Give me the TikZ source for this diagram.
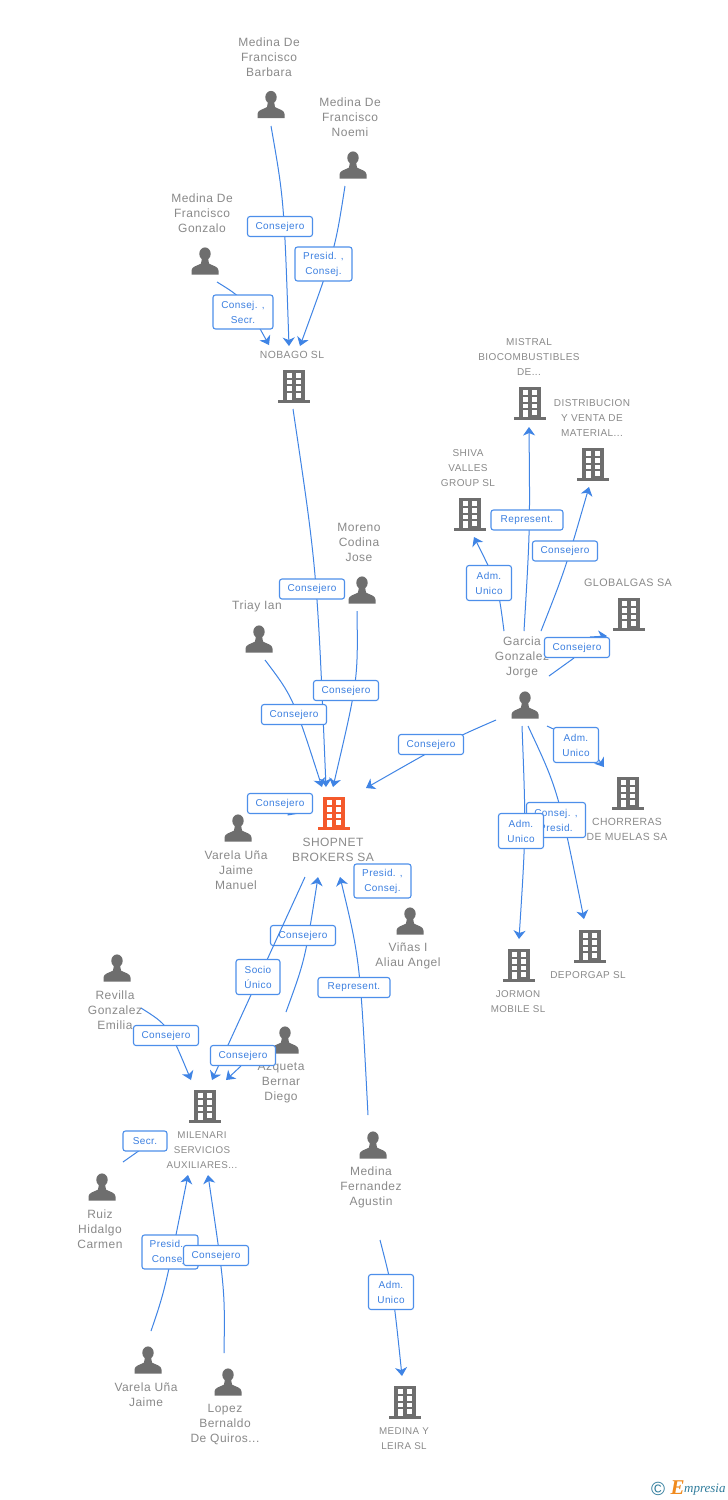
\documentclass[tikz,border=0pt]{standalone}
\usepackage{fontspec}
\setmainfont[LetterSpace=4]{Liberation Sans}
\newfontfamily\logofont{Liberation Serif}
\usetikzlibrary{arrows.meta}
\definecolor{linkblue}{HTML}{3F84E5}
\definecolor{boxblue}{HTML}{4D8FEA}
\definecolor{txtblue}{HTML}{3B7FE0}
\definecolor{icongray}{HTML}{6E6E6E}
\definecolor{namegray}{HTML}{8A8A8A}
\definecolor{hotorange}{HTML}{F4592B}
\definecolor{logoteal}{HTML}{2F7C9C}
\definecolor{logoorange}{HTML}{F08A1D}
\tikzset{
  x=1pt,y=-1pt,
  conn/.style={draw=linkblue,line width=1pt},
  connarrow/.style={conn,-{Stealth[length=8.5pt,width=12pt,inset=2.5pt]}},
  persontext/.style={text=namegray,align=center,inner sep=0pt,font=\fontsize{12}{15}\selectfont},
  bigcotext/.style={text=namegray,align=center,inner sep=0pt,font=\fontsize{12}{15}\selectfont},
  cotext/.style={text=namegray,align=center,inner sep=0pt,font=\fontsize{10}{15}\selectfont},
  widecotext/.style={text=namegray,align=center,inner sep=0pt,font=\fontsize{10.4}{15}\selectfont},
  smalltext/.style={text=namegray,align=center,inner sep=0pt,font=\fontsize{9.8}{15}\selectfont},
  linkbox/.style={draw=boxblue,line width=1.1pt,rounded corners=2.5pt,fill=white,text=txtblue,
    align=center,inner sep=0pt,font=\fontsize{10}{15}\selectfont},
  person/.pic={
    \fill[icongray] (0,-7.2) ellipse (5.7 and 6.4);
    \fill[icongray] (-13.5,13.5) -- (-13.5,9.5) .. controls (-13.5,5.5) and (-8,5) .. (-4,2.5)
      -- (-3,-3) -- (3,-3) -- (4,2.5) .. controls (8,5) and (13.5,5.5) .. (13.5,9.5) -- (13.5,13.5) -- cycle;
  },
  building/.pic={
    \fill[pic actions] (-11.2,-16) rectangle (11.2,14);
    \fill[pic actions] (-16,14) rectangle (16,17);
    \foreach \yy in {-12.7,-6,0.7} {
      \fill[white] (-7.3,\yy) rectangle (-2.2,{\yy+4.7});
      \fill[white] (2.3,\yy) rectangle (7.4,{\yy+4.7});
    }
    \fill[white] (-7.3,7.4) rectangle (-2.2,14);
    \fill[white] (2.3,7.4) rectangle (7.4,12);
  },
}
\newcommand{\personat}[3]{\coordinate (#1) at (#2,#3); \pic at (#1) {person};}
\newcommand{\buildingat}[3]{\coordinate (#1) at (#2,#3); \pic[fill=icongray] at (#1) {building};}
\newcommand{\linkbox}[6]{\node[linkbox,minimum width=#4pt,minimum height=#5pt] (#1) at (#2,#3) {#6};}
\begin{document}
\begin{tikzpicture}
\useasboundingbox (0,0) rectangle (728,1500);
\fill[white] (0,0) rectangle (728,1500);

% people
\personat{barbara}{271}{104.5}
\personat{noemi}{353}{165}
\personat{gonzalo}{205}{261}
\personat{moreno}{362}{590}
\personat{triay}{259}{639}
\personat{jmanuel}{238}{828}
\personat{vinas}{410}{921}
\personat{revilla}{117}{968}
\personat{azqueta}{285}{1040}
\personat{ruiz}{102}{1187}
\personat{agustin}{373}{1145}
\personat{jaime}{148}{1360}
\personat{lopez}{228}{1382}
\personat{garcia}{525}{705}

% companies
\buildingat{nobago}{294}{385.5}
\coordinate (shopnet) at (334,813); \pic[fill=hotorange] at (shopnet) {building};
\buildingat{mistral}{530}{403}
\buildingat{distrib}{593}{464}
\buildingat{shiva}{470}{514}
\buildingat{globalgas}{629}{614}
\buildingat{chorreras}{628}{793}
\buildingat{deporgap}{590}{946}
\buildingat{jormon}{519}{965}
\buildingat{milenari}{205}{1106}
\buildingat{leira}{405}{1402}

% names
\node[persontext] (barbaraT) at (269,57) {Medina De\\Francisco\\Barbara};
\node[persontext] (noemiT) at (350,117) {Medina De\\Francisco\\Noemi};
\node[persontext] (gonzaloT) at (202,213) {Medina De\\Francisco\\Gonzalo};
\node[widecotext] (nobagoT) at (292,355) {NOBAGO SL};
\node[persontext] (morenoT) at (359,542) {Moreno\\Codina\\Jose};
\node[persontext] (triayT) at (257,606) {Triay Ian};
\node[persontext] (jmanuelT) at (236,870) {Varela Uña\\Jaime\\Manuel};
\node[bigcotext] (shopnetT) at (333,849.5) {SHOPNET\\BROKERS SA};
\node[persontext] (vinasT) at (408,955.5) {Viñas I\\Aliau Angel};
\node[persontext] (revillaT) at (115,1010) {Revilla\\Gonzalez\\Emilia};
\node[persontext] (azquetaT) at (281,1083) {Azqueta\\Bernar\\Diego};
\node[smalltext] (milenariT) at (202,1150) {MILENARI\\SERVICIOS\\AUXILIARES...};
\node[persontext] (ruizT) at (100,1229) {Ruiz\\Hidalgo\\Carmen};
\node[persontext] (agustinT) at (371,1187) {Medina\\Fernandez\\Agustin};
\node[persontext] (jaimeT) at (146,1394.5) {Varela Uña\\Jaime};
\node[persontext] (lopezT) at (225,1424) {Lopez\\Bernaldo\\De Quiros...};
\node[smalltext] (leiraT) at (404,1438.5) {MEDINA Y\\LEIRA SL};
\node[cotext] (shivaT) at (468,468) {SHIVA\\VALLES\\GROUP SL};
\node[cotext] (mistralT) at (529,357) {MISTRAL\\BIOCOMBUSTIBLES\\DE...};
\node[cotext] (distribT) at (592,418) {DISTRIBUCION\\Y VENTA DE\\MATERIAL...};
\node[text=namegray,inner sep=0pt,font=\fontsize{10.8}{15}\selectfont] (globalgasT) at (628,583) {GLOBALGAS SA};
\node[persontext] (garciaT) at (522,657) {Garcia\\Gonzalez\\Jorge};
\node[widecotext] (chorrerasT) at (627,829.5) {CHORRERAS\\DE MUELAS SA};
\node[cotext] (deporgapT) at (588,975) {DEPORGAP SL};
\node[smalltext] (jormonT) at (518,1001.5) {JORMON\\MOBILE SL};

% connector ends
\coordinate (a1) at (271,126);   \coordinate (b1) at (289,346);
\coordinate (a2) at (345,186);   \coordinate (b2) at (300,346);
\coordinate (a3) at (217,282);   \coordinate (b3) at (269,345);
\coordinate (a4) at (293,409);   \coordinate (b4) at (326,787);
\coordinate (a5) at (357,611);   \coordinate (b5) at (333,787);
\coordinate (a6) at (265,660);   \coordinate (b6) at (322,787);
\coordinate (a7) at (496,720);   \coordinate (b7) at (366,788);
\coordinate (a8) at (297,806);   \coordinate (b8) at (287.5,815.5);
\coordinate (a10) at (141,1008); \coordinate (b10) at (191,1080);
\coordinate (a11) at (241,1066); \coordinate (b11) at (226,1080);
\coordinate (a12) at (123,1162);
\coordinate (a13) at (151,1331); \coordinate (b13) at (188,1175);
\coordinate (a14) at (224,1353); \coordinate (b14) at (208,1175);
\coordinate (a15) at (380,1240); \coordinate (b15) at (402,1376);
\coordinate (a16) at (504,631);  \coordinate (b16) at (474,537);
\coordinate (a17) at (524,631);  \coordinate (b17) at (529,427);
\coordinate (a18) at (541,631);  \coordinate (b18) at (589,487);
\coordinate (a19) at (549,676);  \coordinate (b19) at (607,636);
\coordinate (a20) at (547,726);  \coordinate (b20) at (604,767);
\coordinate (a21) at (528,726);  \coordinate (b21) at (584,919);
\coordinate (a22) at (522,726);  \coordinate (b22) at (519,939);
\coordinate (a23) at (286,1012); \coordinate (b23) at (318,877);
\coordinate (a24) at (368,1115); \coordinate (b24) at (340,877);
\coordinate (a25) at (305,877);  \coordinate (b25) at (212,1080);

% connectors
\draw[connarrow] (a1) .. controls (284,200) .. (b1);
\draw[connarrow] (a2) .. controls (335,250) .. (b2);
\draw[connarrow] (a3) .. controls (243,298) .. (b3);
\draw[connarrow] (a4) .. controls (317,570) .. (b4);
\draw[connarrow] (a5) .. controls (358,680) .. (b5);
\draw[connarrow] (a6) .. controls (293,697) .. (b6);
\draw[connarrow] (a7) .. controls (450,740) .. (b7);
\draw[connarrow] (a8) -- (b8);
\draw[connarrow] (a10) .. controls (168,1025) .. (b10);
\draw[connarrow] (a11) -- (b11);
\draw[conn] (a12) -- (140,1150);
\draw[connarrow] (a13) .. controls (165,1290) .. (b13);
\draw[connarrow] (a14) .. controls (225,1290) .. (b14);
\draw[connarrow] (a15) .. controls (393,1290) .. (b15);
\draw[connarrow] (a16) .. controls (498,585) .. (b16);
\draw[connarrow] (a17) .. controls (530,530) .. (b17);
\draw[connarrow] (a18) .. controls (565,570) .. (b18);
\draw[conn] (a19) -- (574,658);
\draw[connarrow] (590,637) -- (b19);
\draw[connarrow] (a20) .. controls (588,745) .. (b20);
\draw[connarrow] (a21) .. controls (558,790) .. (b21);
\draw[connarrow] (a22) .. controls (526,830) .. (b22);
\draw[connarrow] (a23) .. controls (305,960) .. (b23);
\draw[connarrow] (a24) .. controls (360,960) .. (b24);

% relationship labels
\linkbox{l23}{303}{935.5}{65}{20}{Consejero}
\draw[connarrow] (a25) -- (b25);
\linkbox{l1}{280}{226.5}{65}{20}{Consejero}
\linkbox{l2}{323.5}{264}{57}{34}{Presid. ,\\Consej.}
\linkbox{l3}{243}{312}{60}{34}{Consej. ,\\Secr.}
\linkbox{l4}{312}{589}{65}{20}{Consejero}
\linkbox{l6}{294}{714.5}{65}{20}{Consejero}
\linkbox{l5}{346}{690.5}{65}{20}{Consejero}
\linkbox{l7}{431}{744.5}{65}{20}{Consejero}
\linkbox{l8}{280}{803.5}{65}{20}{Consejero}
\linkbox{l9}{382.5}{881}{57}{34}{Presid. ,\\Consej.}
\linkbox{l25}{258}{977}{44}{35}{Socio\\Único}
\linkbox{l24}{354}{987.5}{72}{20}{Represent.}
\linkbox{l10}{166}{1035.5}{65}{20}{Consejero}
\linkbox{l11}{243}{1055.5}{65}{20}{Consejero}
\linkbox{l12}{145}{1141}{44}{20}{Secr.}
\linkbox{l13}{170}{1252}{56}{34}{Presid. ,\\Consej.}
\linkbox{l14}{216}{1255.5}{65}{20}{Consejero}
\linkbox{l15}{391}{1292}{45}{35}{Adm.\\Unico}
\linkbox{l16}{489}{583}{45}{35}{Adm.\\Unico}
\linkbox{l17}{527}{520}{72}{20}{Represent.}
\linkbox{l18}{565}{551}{65}{20}{Consejero}
\linkbox{l19}{577}{647.5}{65}{20}{Consejero}
\linkbox{l20}{576}{745}{45}{35}{Adm.\\Unico}
\linkbox{l21}{556}{820}{59}{35}{Consej. ,\\Presid.}
\linkbox{l22}{521}{831}{45}{35}{Adm.\\Unico}

% logo
\node[inner sep=0pt,text=logoteal,font=\fontsize{19}{19}\selectfont] (logoC) at (658,1489) {©};
\node[inner sep=0pt,text=logoorange,font=\logofont\bfseries\itshape\fontsize{21}{21}\selectfont] (logoE) at (677.5,1488) {E};
\node[inner sep=0pt,anchor=west,text=logoteal,font=\logofont\itshape\fontsize{13}{13}\selectfont] (logoW) at (684,1490) {mpresia};
\end{tikzpicture}
\end{document}
